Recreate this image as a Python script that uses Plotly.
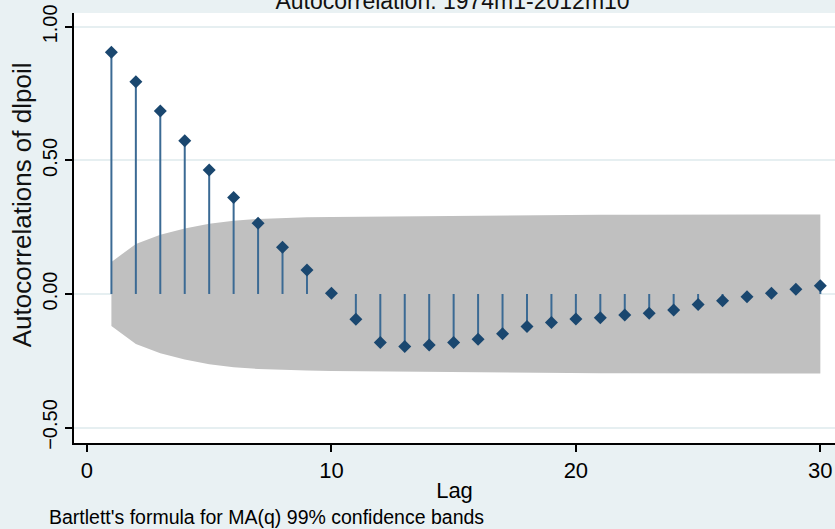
import plotly.graph_objects as go

lags = list(range(1, 31))
acf = [0.905, 0.795, 0.685, 0.574, 0.464, 0.361, 0.265, 0.175, 0.090, 0.003,
       -0.095, -0.182, -0.197, -0.191, -0.182, -0.170, -0.149, -0.122, -0.107, -0.094,
       -0.089, -0.079, -0.072, -0.060, -0.039, -0.025, -0.010, 0.003, 0.018, 0.031]
band = [0.120, 0.187, 0.222, 0.245, 0.263, 0.274, 0.281, 0.285, 0.287, 0.288,
        0.289, 0.290, 0.291, 0.292, 0.293, 0.293, 0.294, 0.295, 0.296, 0.296,
        0.297, 0.297, 0.297, 0.298, 0.298, 0.298, 0.298, 0.298, 0.298, 0.298]
x_ticks = [0, 10, 20, 30]
y_ticks = [-0.5, 0.0, 0.5, 1.0]

title_text = "Autocorrelation: 1974m1-2012m10"
y_title = "Autocorrelations of dlpoil"
x_title = "Lag"
note = "Bartlett's formula for MA(q) 99% confidence bands"

BG = "#e9f1f3"
NAVY = "#1a476f"
STEM = "#3b6a94"
BAND = "#c0c0c0"
FONT = "Liberation Sans, Arial, sans-serif"

fig = go.Figure()

# confidence band
fig.add_trace(go.Scatter(x=lags, y=band, mode="lines", line=dict(width=0, color=BAND),
                         hoverinfo="skip", showlegend=False))
fig.add_trace(go.Scatter(x=lags, y=[-b for b in band], mode="lines", line=dict(width=0, color=BAND),
                         fill="tonexty", fillcolor=BAND, hoverinfo="skip", showlegend=False))

# stems
sx, sy = [], []
for l, v in zip(lags, acf):
    sx += [l, l, None]
    sy += [0, v, None]
fig.add_trace(go.Scatter(x=sx, y=sy, mode="lines", line=dict(color=STEM, width=2),
                         hoverinfo="skip", showlegend=False))

# markers
fig.add_trace(go.Scatter(x=lags, y=acf, mode="markers",
                         marker=dict(symbol="diamond", size=10, color=NAVY),
                         showlegend=False))

fig.update_layout(
    width=835, height=529,
    paper_bgcolor=BG, plot_bgcolor="white",
    margin=dict(l=74, r=0, t=13, b=86),
    font=dict(family=FONT, color="black"),
    title=dict(text=title_text, x=0.542, xanchor="center", y=0.999, yanchor="middle",
               font=dict(size=23, color="#111111")),
    showlegend=False,
)
fig.update_xaxes(
    range=[-0.53, 30.6], tickvals=x_ticks, ticktext=[str(t) for t in x_ticks],
    showline=True, linecolor="black", linewidth=1.5,
    ticks="outside", ticklen=7, tickcolor="black", tickwidth=1.5,
    showgrid=False, zeroline=False,
    tickfont=dict(size=22),
    title=dict(text=x_title, font=dict(size=22), standoff=0),
)
fig.update_yaxes(
    range=[-0.558, 1.052], tickvals=y_ticks, tickformat=".2f",
    showline=True, linecolor="black", linewidth=1.5,
    ticks="outside", ticklen=7, tickcolor="black", tickwidth=1.5,
    showgrid=True, gridcolor="#e6eff1", gridwidth=1.5, zeroline=False,
    tickangle=-90, tickfont=dict(size=20),
)

# y-axis title placed as in the reference (above the vertical centre)
fig.add_annotation(text=y_title, xref="paper", yref="paper", x=-0.0683, y=0.553,
                   xanchor="center", yanchor="middle", textangle=-90, showarrow=False,
                   font=dict(size=26, color="#111111"))

fig.add_annotation(text=note, xref="paper", yref="paper", x=-0.036, xanchor="left",
                   y=0, yshift=-74, yanchor="middle", showarrow=False,
                   font=dict(size=19.5, color="black"))

fig.write_html("out.html", config={"displayModeBar": False},
               post_script="document.body.style.margin='0';")
